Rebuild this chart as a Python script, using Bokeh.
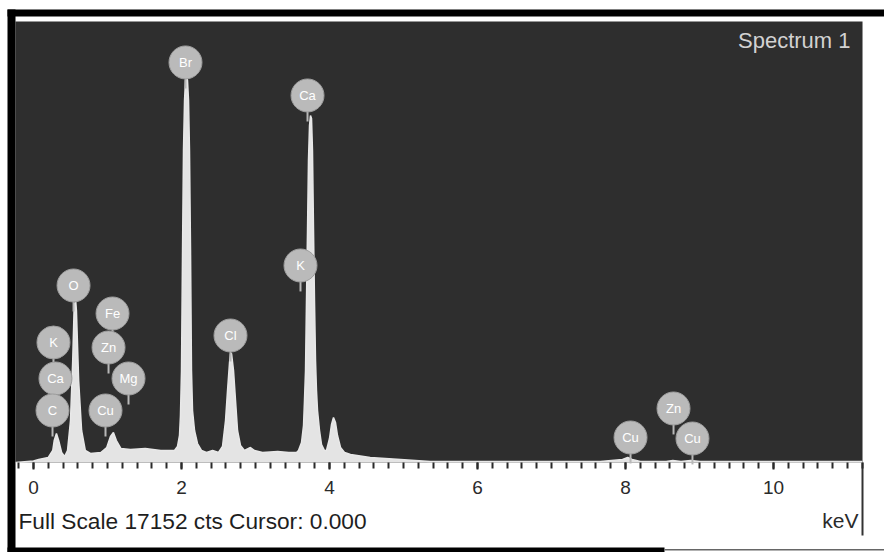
from bokeh.plotting import figure
from bokeh.models import Range1d, Label, FixedTicker
from bokeh.embed import file_html
from bokeh.resources import INLINE
from bokeh.core.properties import value

# ---- data ----
full_scale_cts = 17152
energy_min_kev, energy_max_kev = -0.243, 11.203   # extent of the dark spectrum window
energy_kev = [-0.24, 0.0, 0.07, 0.20, 0.26, 0.28, 0.31, 0.34, 0.38, 0.42, 0.46,
              0.50, 0.53, 0.55, 0.57, 0.58, 0.61, 0.65, 0.70, 0.77, 0.91, 0.99,
              1.04, 1.08, 1.12, 1.18, 1.31, 1.51, 1.72, 1.88,
              1.905, 1.946, 1.973, 1.986, 2.000, 2.014, 2.027, 2.041, 2.054, 2.068,
              2.081, 2.095, 2.108, 2.122, 2.135, 2.149, 2.176, 2.216, 2.270, 2.338,
              2.42, 2.50,
              2.554, 2.595, 2.622, 2.649, 2.662, 2.676, 2.703, 2.730, 2.757, 2.797,
              2.851, 2.932, 2.986, 3.095, 3.30, 3.45, 3.554,
              3.581, 3.622, 3.649, 3.662, 3.676, 3.689, 3.703, 3.716, 3.730, 3.743,
              3.757, 3.770, 3.784, 3.797, 3.811, 3.824, 3.838, 3.865, 3.892, 3.932,
              3.959, 4.000, 4.027, 4.054, 4.081, 4.108, 4.149, 4.203, 4.284,
              4.55, 4.96, 5.36, 7.66, 7.96, 8.03, 8.09, 8.20, 8.55, 8.64, 8.75,
              8.88, 9.01, 11.2]
counts = [0, 60, 117, 195, 467, 856, 1128, 856, 389, 233, 467,
          1634, 3968, 6107, 6302, 5913, 3190, 1245, 467, 350, 389, 584,
          1011, 1167, 856, 545, 506, 545, 467, 467,
          467, 622, 1050, 1828, 3579, 8247, 12137, 14082, 14860, 15015,
          14860, 14082, 12137, 8247, 3579, 2023, 1245, 739, 467, 389,
          467, 389,
          622, 1634, 2801, 3890, 4240, 4240, 3579, 2412, 1245, 661,
          467, 584, 467, 389, 428, 389, 389,
          467, 778, 1439, 2412, 3579, 6302, 9025, 11748, 13109, 13498,
          13382, 12137, 9025, 6302, 3968, 2801, 2023, 1245, 700, 467,
          467, 934, 1478, 1751, 1556, 1050, 584, 389, 311,
          195, 117, 39, 39, 117, 195, 117, 39, 39, 78, 39,
          78, 39, 39]

peak_labels = ["Br", "Ca", "K", "O", "Fe", "K", "Zn", "Ca", "Mg", "C", "Cu",
               "Cl", "Cu", "Zn", "Cu"]
label_energy = [2.054, 3.703, 3.608, 0.541, 1.068, 0.270, 1.014, 0.297, 1.284,
                0.257, 0.973, 2.662, 8.068, 8.649, 8.905]
label_counts = [15560, 14276, 7663, 6885, 5796, 4668, 4474, 3268, 3268,
                2023, 2023, 4940, 973, 2101, 934]

tick_values = [0, 2, 4, 6, 8, 10]
minor_tick_values = [round(0.2 * i, 1) for i in range(-1, 57)]
spectrum_name = "Spectrum 1"
footer_text = "Full Scale 17152 cts Cursor: 0.000"
unit_text = "keV"

# ---- layout helpers (screen pixel -> data), decoration only ----
W, H = 884, 552
KEV_PX = 74.0                      # pixels per keV
X0_PX, Y0_PX, TOP_PX = 33.0, 462.0, 21.0
CTS_PX = full_scale_cts / (Y0_PX - TOP_PX)

def ex(px):
    return (px - X0_PX) / KEV_PX

def cy(py):
    return (Y0_PX - py) * CTS_PX

p = figure(width=W, height=H, output_backend="svg", toolbar_location=None,
           x_range=Range1d(ex(0), ex(W)), y_range=Range1d(cy(H), cy(0)),
           y_axis_location=None, min_border=0,
           background_fill_color="white", border_fill_color="white",
           outline_line_color=None)
p.grid.visible = False

# dark spectrum window
p.quad(left=[energy_min_kev], right=[energy_max_kev], bottom=[0], top=[full_scale_cts],
       fill_color="#2e2e2e", line_color=None)

# black frame of the scan
p.quad(left=[ex(7), ex(7), ex(7)], right=[ex(W), ex(15), ex(664)],
       bottom=[cy(16), cy(H), cy(H)], top=[cy(9), cy(9), cy(547)],
       fill_color="black", line_color=None)
p.quad(left=[ex(664)], right=[ex(W)], bottom=[cy(550)], top=[cy(548.5)],
       fill_color="#666666", line_color=None)
p.quad(left=[ex(861)], right=[ex(863)], bottom=[cy(535)], top=[cy(462)],
       fill_color="#333333", line_color=None)

# spectrum
p.varea(x=energy_kev, y1=[0] * len(counts), y2=counts, fill_color="#e4e4e4")
p.line(x=energy_kev, y=counts, line_color="#e8e8e8", line_width=1.5)

# element markers
stem = [c - 1010 for c in label_counts]
p.segment(x0=label_energy, y0=label_counts, x1=label_energy, y1=stem,
          line_color="#b8b8b8", line_width=2)
p.scatter(x=label_energy, y=label_counts, size=33, marker="circle",
          fill_color="#bababa", line_color="#9c9c9c", line_width=1)
p.text(x=label_energy, y=label_counts, text=peak_labels, text_align="center",
       text_baseline="middle", text_font=value("Liberation Sans"),
       text_font_size="13px", text_color="#ffffff")

# axis drawn at zero counts
ax = p.xaxis[0]
ax.fixed_location = 0
ax.ticker = FixedTicker(ticks=tick_values, minor_ticks=minor_tick_values)
ax.axis_line_color = None
ax.major_tick_in = 0
ax.major_tick_out = 7
ax.minor_tick_in = 0
ax.minor_tick_out = 6
ax.major_tick_line_color = "#1e1e1e"
ax.minor_tick_line_color = "#2a2a2a"
ax.major_tick_line_width = 2
ax.minor_tick_line_width = 2
ax.major_label_text_font = "Liberation Sans"
ax.major_label_text_font_size = "19px"
ax.major_label_text_color = "#2a2a2a"
ax.major_label_standoff = 11

p.add_layout(Label(x=ex(850), y=cy(40), text=spectrum_name, text_align="right",
                   text_baseline="middle", text_color="#d2d2d2",
                   text_font="Liberation Sans", text_font_size="22px"))
p.add_layout(Label(x=ex(18), y=cy(520), text=footer_text,
                   text_align="left", text_baseline="middle", text_color="#1e1e1e",
                   text_font="Liberation Sans", text_font_size="22.7px"))
p.add_layout(Label(x=ex(858), y=cy(520), text=unit_text,
                   text_align="right", text_baseline="middle", text_color="#2a2a2a",
                   text_font="Liberation Sans", text_font_size="21px"))

open("out.html", "w").write(file_html(p, INLINE))
